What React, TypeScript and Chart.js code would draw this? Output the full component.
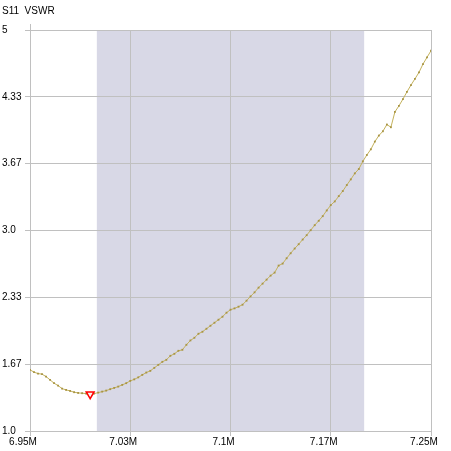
import React, { useEffect, useRef } from 'react';
import { Chart, registerables } from 'chart.js';

Chart.register(...registerables);

const TITLE = 'S11  VSWR';
const FREQ_START_MHZ = 6.95;
const FREQ_STEP_MHZ = 0.003;
const VSWR = [
  1.61, 1.587, 1.573, 1.567, 1.543, 1.51, 1.477, 1.453, 1.423, 1.41,
  1.40, 1.387, 1.38, 1.377, 1.373, 1.367, 1.373, 1.383, 1.393, 1.403,
  1.417, 1.43, 1.443, 1.46, 1.477, 1.50, 1.515, 1.535, 1.56, 1.583,
  1.60, 1.63, 1.66, 1.69, 1.71, 1.75, 1.77, 1.80, 1.81, 1.86,
  1.903, 1.93, 1.97, 1.99, 2.02, 2.05, 2.08, 2.11, 2.14, 2.18,
  2.21, 2.223, 2.24, 2.26, 2.30, 2.343, 2.383, 2.43, 2.47, 2.51,
  2.55, 2.58, 2.65, 2.67, 2.723, 2.773, 2.82, 2.863, 2.91, 2.953,
  3.003, 3.053, 3.097, 3.143, 3.20, 3.253, 3.29, 3.343, 3.393, 3.453,
  3.51, 3.57, 3.613, 3.69, 3.753, 3.81, 3.887, 3.947, 3.99, 4.057,
  4.03, 4.183, 4.243, 4.31, 4.383, 4.45, 4.513, 4.577, 4.66, 4.727,
  4.793,
];
const MARKER_INDEX = 15;
const BAND_MHZ = [7.0, 7.2];
const X_TICKS = [6.95, 7.025, 7.1, 7.175, 7.25];
const X_TICK_LABELS = ['6.95M', '7.03M', '7.1M', '7.17M', '7.25M'];
const Y_TICKS = [1, 1.6667, 2.3333, 3, 3.6667, 4.3333, 5];
const Y_TICK_LABELS = ['1.0', '1.67', '2.33', '3.0', '3.67', '4.33', '5'];

const FONT = '"Liberation Sans", Arial, sans-serif';
const GRID = 'rgb(192,192,192)';

export default function App() {
  const ref = useRef<HTMLCanvasElement | null>(null);

  useEffect(() => {
    if (!ref.current) return;
    const points = VSWR.map((v, i) => ({ x: FREQ_START_MHZ + i * FREQ_STEP_MHZ, y: v }));

    const decor = {
      id: 'decor',
      beforeDraw(chart: any) {
        const { ctx, chartArea, scales } = chart;
        ctx.save();
        ctx.fillStyle = '#ffffff';
        ctx.fillRect(0, 0, chart.width, chart.height);
        const x0 = scales.x.getPixelForValue(BAND_MHZ[0]);
        const x1 = scales.x.getPixelForValue(BAND_MHZ[1]);
        ctx.fillStyle = 'rgb(216,216,230)';
        ctx.fillRect(x0, chartArea.top, x1 - x0, chartArea.bottom - chartArea.top);
        ctx.restore();
      },
      afterDraw(chart: any) {
        const { ctx, chartArea } = chart;
        ctx.save();
        ctx.fillStyle = '#000';
        ctx.font = `10px ${FONT}`;
        ctx.textAlign = 'left';
        ctx.textBaseline = 'middle';
        ctx.fillText(TITLE, 2, 11);
        ctx.strokeStyle = GRID;
        ctx.lineWidth = 1;
        ctx.beginPath();
        ctx.moveTo(Math.round(chartArea.left) + 0.5, chartArea.top - 6);
        ctx.lineTo(Math.round(chartArea.left) + 0.5, chartArea.top);
        ctx.stroke();
        ctx.restore();
      },
    };

    const chart = new Chart(ref.current, {
      type: 'scatter',
      data: {
        datasets: [
          {
            data: [points[MARKER_INDEX]],
            pointStyle: 'triangle',
            rotation: 180,
            radius: 4.5,
            borderColor: 'rgb(255,0,0)',
            backgroundColor: 'rgba(255,255,255,0.9)',
            borderWidth: 1.5,
            showLine: false,
          } as any,
          {
            data: points,
            showLine: true,
            borderColor: 'rgb(196,178,92)',
            borderWidth: 1,
            pointStyle: 'rect',
            radius: 1.3,
            pointBackgroundColor: 'rgb(168,148,68)',
            pointBorderWidth: 0,
            tension: 0,
          } as any,
        ],
      },
      options: {
        animation: false,
        responsive: true,
        maintainAspectRatio: false,
        layout: { padding: { left: 2, top: 30, right: 20, bottom: 0 } },
        plugins: { legend: { display: false }, tooltip: { enabled: false }, title: { display: false } },
        scales: {
          x: {
            type: 'linear',
            min: X_TICKS[0],
            max: X_TICKS[X_TICKS.length - 1],
            afterBuildTicks: (s: any) => {
              s.ticks = X_TICKS.map((v) => ({ value: v }));
            },
            afterFit: (s: any) => {
              s.height = 20;
              s.paddingLeft = 0;
              s.paddingRight = 0;
            },
            grid: { color: GRID, tickLength: 5, drawTicks: true },
            border: { color: GRID },
            ticks: {
              autoSkip: false,
              maxRotation: 0,
              padding: 0,
              labelOffset: -7,
              color: '#000',
              font: { family: FONT, size: 10 },
              callback: (_v: any, i: number) => X_TICK_LABELS[i],
            },
          },
          y: {
            type: 'linear',
            min: Y_TICKS[0],
            max: Y_TICKS[Y_TICKS.length - 1],
            afterBuildTicks: (s: any) => {
              s.ticks = Y_TICKS.map((v) => ({ value: v }));
            },
            afterFit: (s: any) => {
              s.width = 28;
              s.paddingTop = 0;
              s.paddingBottom = 0;
            },
            grid: { color: GRID, tickLength: 5, drawTicks: true },
            border: { color: GRID },
            ticks: {
              autoSkip: false,
              crossAlign: 'far',
              padding: 0,
              color: '#000',
              font: { family: FONT, size: 10 },
              callback: (_v: any, i: number) => Y_TICK_LABELS[i],
            },
          },
        },
      } as any,
      plugins: [decor],
    });
    return () => chart.destroy();
  }, []);

  return (
    <div style={{ position: 'absolute', left: 0, top: 0, width: 451, height: 451, background: '#fff' }}>
      <canvas ref={ref} />
    </div>
  );
}
